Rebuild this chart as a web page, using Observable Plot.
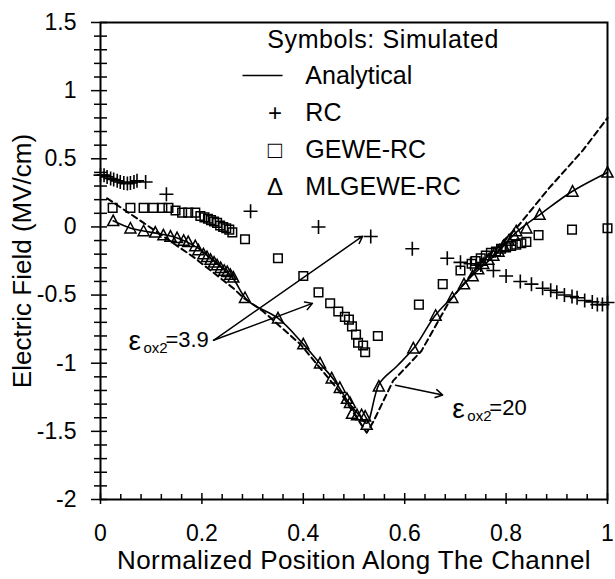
<!DOCTYPE html>
<html><head><meta charset="utf-8">
<script src="https://cdn.jsdelivr.net/npm/d3@7"></script>
<script src="https://cdn.jsdelivr.net/npm/@observablehq/plot@0.6"></script>
<style>body{margin:0;background:#fff}#chart svg{display:block}</style>
</head><body><div id="chart"></div>
<script>
// RC (plus markers)
const rcX = [0.0,0.007,0.013,0.02,0.026,0.033,0.039,0.046,0.053,0.059,0.066,0.072,0.089,0.13,0.296,0.43,0.533,0.615,0.684,0.71,0.73,0.75,0.775,0.80,0.828,0.85,0.872,0.888,0.90,0.915,0.93,0.94,0.955,0.97,0.98,0.99,1.0];
const rcY = [0.38,0.38,0.367,0.355,0.348,0.338,0.33,0.323,0.318,0.323,0.33,0.338,0.33,0.24,0.115,0.0,-0.07,-0.16,-0.23,-0.26,-0.27,-0.28,-0.32,-0.36,-0.40,-0.42,-0.45,-0.465,-0.48,-0.50,-0.51,-0.52,-0.54,-0.55,-0.57,-0.57,-0.555];
// GEWE-RC (square markers)
const geweX = [0.024,0.059,0.085,0.104,0.122,0.134,0.148,0.161,0.173,0.187,0.197,0.205,0.212,0.218,0.224,0.23,0.236,0.242,0.248,0.254,0.26,0.285,0.35,0.40,0.43,0.453,0.469,0.482,0.49,0.496,0.504,0.508,0.518,0.522,0.547,0.628,0.675,0.71,0.732,0.74,0.75,0.76,0.77,0.78,0.79,0.80,0.81,0.82,0.83,0.84,0.864,0.93,1.0];
const geweY = [0.14,0.14,0.14,0.14,0.14,0.14,0.12,0.105,0.105,0.105,0.08,0.07,0.06,0.05,0.04,0.03,0.01,0.0,-0.01,-0.02,-0.04,-0.09,-0.23,-0.36,-0.48,-0.56,-0.62,-0.66,-0.68,-0.73,-0.79,-0.85,-0.87,-0.92,-0.80,-0.57,-0.42,-0.32,-0.27,-0.25,-0.23,-0.21,-0.19,-0.18,-0.16,-0.15,-0.14,-0.13,-0.12,-0.11,-0.06,-0.02,-0.01];
// MLGEWE-RC (triangle markers)
const mlX = [0.025,0.059,0.085,0.108,0.124,0.138,0.151,0.164,0.173,0.187,0.193,0.203,0.21,0.217,0.224,0.23,0.237,0.244,0.25,0.256,0.262,0.285,0.35,0.40,0.433,0.456,0.472,0.486,0.492,0.496,0.506,0.515,0.522,0.525,0.549,0.617,0.661,0.694,0.717,0.734,0.745,0.755,0.765,0.775,0.785,0.795,0.805,0.815,0.82,0.84,0.866,0.931,1.0];
const mlY = [0.044,-0.01,-0.03,-0.04,-0.06,-0.07,-0.08,-0.10,-0.11,-0.14,-0.17,-0.20,-0.22,-0.24,-0.26,-0.28,-0.30,-0.32,-0.33,-0.35,-0.37,-0.52,-0.67,-0.86,-1.0,-1.11,-1.18,-1.26,-1.29,-1.37,-1.38,-1.38,-1.39,-1.45,-1.17,-0.89,-0.65,-0.52,-0.42,-0.36,-0.31,-0.27,-0.24,-0.21,-0.18,-0.14,-0.10,-0.06,-0.03,-0.01,0.09,0.26,0.40];
// Analytical, solid
const solidX = [0.025,0.06,0.1,0.15,0.19,0.23,0.26,0.29,0.35,0.40,0.43,0.46,0.49,0.51,0.525,0.55,0.585,0.62,0.66,0.695,0.735,0.78,0.82,0.87,0.93,1.0];
const solidY = [0.045,-0.01,-0.04,-0.08,-0.15,-0.27,-0.37,-0.54,-0.67,-0.86,-0.99,-1.12,-1.29,-1.38,-1.44,-1.15,-1.02,-0.88,-0.65,-0.51,-0.35,-0.20,-0.04,0.10,0.26,0.40];
// Analytical, dashed
const dashX = [0.013,0.045,0.085,0.183,0.262,0.282,0.321,0.394,0.472,0.525,0.538,0.577,0.633,0.689,0.754,0.82,0.886,0.951,1.0];
const dashY = [0.21,0.13,0.03,-0.22,-0.45,-0.52,-0.62,-0.86,-1.21,-1.51,-1.43,-1.13,-0.91,-0.54,-0.25,-0.01,0.29,0.56,0.80];

// Ticks
const yMajor = [-2,-1.5,-1,-0.5,0,0.5,1,1.5];
const yTickLabels = ["-2","-1.5","-1","-0.5","0","0.5","1","1.5"];
const xMajor = [0,0.2,0.4,0.6,0.8,1];
const xTickLabels = ["0","0.2","0.4","0.6","0.8","1"];
const yMinor = d3.range(-20,16).map(i => i/10).filter(v => !yMajor.some(m => Math.abs(m - v) < 1e-9));
const xMinor = d3.range(0,26).map(i => i*0.04).filter(v => !xMajor.some(m => Math.abs(m - v) < 1e-9));

// Text
const xTitle = "Normalized Position Along The Channel";
const yTitle = "Electric Field (MV/cm)";
const legendTitle = ["Symbols: Simulated"];
const legendLabels = ["Analytical","RC","GEWE-RC","MLGEWE-RC"];
const legendGlyphs = ["+","\u25A1","\u0394"];
const legendTitlePos = {x: 0.329, y: 1.371};
const legendTextX = 0.404;
const legendRowY = [1.111, 0.835, 0.563, 0.291];
const legendGlyphX = 0.344;
const legendLineX = [0.281, 0.360];

// annotations
const annLabels = [
  {x: 0.055, y: -0.832, main: "\u03B5", sub: "ox2", rest: "=3.9"},
  {x: 0.694, y: -1.331, main: "\u03B5", sub: "ox2", rest: "=20"}
];
const arrows = [
  {x1: 0.223, y1: -0.832, x2: 0.517, y2: -0.068},
  {x1: 0.223, y1: -0.832, x2: 0.418, y2: -0.561},
  {x1: 0.582, y1: -1.161, x2: 0.675, y2: -1.233}
];

const rc = rcX.map((x,i) => ({x, y: rcY[i]}));
const gewe = geweX.map((x,i) => ({x, y: geweY[i]}));
const ml = mlX.map((x,i) => ({x, y: mlY[i]}));
const solid = solidX.map((x,i) => ({x, y: solidY[i]}));
const dash = dashX.map((x,i) => ({x, y: dashY[i]}));

const plusSym = {draw(ctx, size){const r = Math.sqrt(size/Math.PI); ctx.moveTo(-r,0); ctx.lineTo(r,0); ctx.moveTo(0,-r); ctx.lineTo(0,r);}};
const squareSym = {draw(ctx, size){const r = Math.sqrt(size/Math.PI); ctx.rect(-r,-r,2*r,2*r);}};
const triSym = {draw(ctx, size){const r = Math.sqrt(size/Math.PI); ctx.moveTo(0,-r*1.05); ctx.lineTo(r,r*0.85); ctx.lineTo(-r,r*0.85); ctx.closePath();}};

const yFmt = d => yTickLabels[yMajor.findIndex(m => Math.abs(m-d) < 1e-9)];
const xFmt = d => xTickLabels[xMajor.findIndex(m => Math.abs(m-d) < 1e-9)];
const blank = () => "";

const legendRows = legendLabels.map((t,i) => ({x: legendTextX, y: legendRowY[i], t}));
const glyphRows = legendGlyphs.map((g,i) => ({x: legendGlyphX, y: legendRowY[i+1], g}));

const chart = Plot.plot({
  width: 615, height: 579,
  marginLeft: 100, marginRight: 8, marginTop: 22, marginBottom: 80,
  style: {fontFamily: "'Liberation Sans', Arial, sans-serif", color: "black", background: "white"},
  x: {domain: [0,1], label: null},
  y: {domain: [-2,1.5], label: null},
  marks: [
    Plot.frame({stroke: "black", strokeWidth: 2}),
    // y axis ticks
    Plot.axisY(yMajor, {anchor: "left", tickSize: 9, tickPadding: 15, tickFormat: yFmt, fontSize: 23, strokeWidth: 1.5, label: null}),
    Plot.axisY(yMajor, {anchor: "left", tickSize: 7, dx: 7, tickFormat: blank, strokeWidth: 1.5, label: null}),
    Plot.axisY(yMinor, {anchor: "left", tickSize: 6, tickFormat: blank, strokeWidth: 1.5, label: null}),
    Plot.axisY(yMinor, {anchor: "left", tickSize: 7, dx: 7, tickFormat: blank, strokeWidth: 1.5, label: null}),
    // x axis ticks
    Plot.axisX(xMajor, {anchor: "bottom", tickSize: 5, tickPadding: 20, tickFormat: xFmt, fontSize: 23, strokeWidth: 1.5, label: null}),
    Plot.axisX(xMajor, {anchor: "bottom", tickSize: 6, dy: -6, tickFormat: blank, strokeWidth: 1.5, label: null}),
    Plot.axisX(xMinor, {anchor: "bottom", tickSize: 5, dy: -5, tickFormat: blank, strokeWidth: 1.5, label: null}),
    // titles
    Plot.text([yTitle], {frameAnchor: "left", textAnchor: "middle", lineAnchor: "middle", rotate: -90, dx: -78, text: d => d, fontSize: 26}),
    Plot.text([xTitle], {frameAnchor: "bottom", textAnchor: "middle", lineAnchor: "middle", dy: 61, text: d => d, fontSize: 26, className: "xtitle"}),
    // lines
    Plot.line(dash, {x: "x", y: "y", stroke: "black", strokeWidth: 2, strokeDasharray: "6,4"}),
    Plot.line(solid, {x: "x", y: "y", stroke: "black", strokeWidth: 1.6, curve: "catmull-rom"}),
    // symbols
    Plot.dot(rc, {x: "x", y: "y", symbol: plusSym, r: 7, stroke: "black", strokeWidth: 1.6, fill: "none"}),
    Plot.dot(gewe, {x: "x", y: "y", symbol: squareSym, r: 4.3, stroke: "black", strokeWidth: 1.5, fill: "none"}),
    Plot.dot(ml, {x: "x", y: "y", symbol: triSym, r: 5.5, stroke: "black", strokeWidth: 1.5, fill: "none"}),
    // arrows
    Plot.arrow(arrows, {x1: "x1", y1: "y1", x2: "x2", y2: "y2", stroke: "black", strokeWidth: 1.5, headLength: 8, insetStart: 0, insetEnd: 0}),
    // annotations
    Plot.text(annLabels, {x: "x", y: "y", text: "main", textAnchor: "start", fontSize: 28, dy: 1}),
    Plot.text(annLabels, {x: "x", y: "y", text: "sub", textAnchor: "start", fontSize: 15, dx: 15, dy: 8}),
    Plot.text(annLabels, {x: "x", y: "y", text: "rest", textAnchor: "start", fontSize: 22, dx: 37}),
    // legend
    Plot.text(legendTitle, {x: legendTitlePos.x, y: legendTitlePos.y, text: d => d, textAnchor: "start", fontSize: 25, className: "ltitle"}),
    Plot.text(legendRows, {x: "x", y: "y", text: "t", textAnchor: "start", fontSize: 25}),
    Plot.ruleY([legendRowY[0]], {x1: legendLineX[0], x2: legendLineX[1], stroke: "black", strokeWidth: 1.6}),
    Plot.text(glyphRows, {x: "x", y: "y", text: "g", fontSize: 24})
  ]
});
chart.querySelectorAll(".xtitle text").forEach(t => t.style.letterSpacing = "0.4px");
chart.querySelectorAll(".ltitle text").forEach(t => t.style.letterSpacing = "0.6px");
document.getElementById("chart").appendChild(chart);
</script></body></html>
